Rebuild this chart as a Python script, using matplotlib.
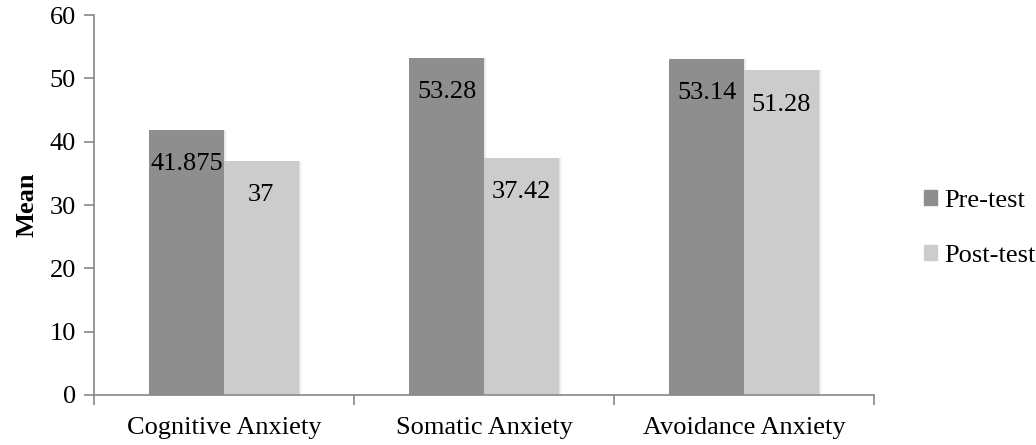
import matplotlib
matplotlib.use("Agg")
import matplotlib.pyplot as plt
import numpy as np

categories = ["Cognitive Anxiety", "Somatic Anxiety", "Avoidance Anxiety"]
series_names = ["Pre-test", "Post-test"]
pre_test = [41.875, 53.28, 53.14]
post_test = [37, 37.42, 51.28]
pre_labels = ["41.875", "53.28", "53.14"]
post_labels = ["37", "37.42", "51.28"]
y_ticks = [0, 10, 20, 30, 40, 50, 60]

plt.rcParams["font.family"] = ["Liberation Serif", "DejaVu Serif"]
FS = 19

fig = plt.figure(figsize=(10.36, 4.45), dpi=100)
ax = fig.add_axes([0.0907, 0.1124, 0.7529, 0.8536])

x = np.arange(len(categories))
width = 0.287
colors = ["#8e8e8e", "#cccccc"]

for i, (vals, labs) in enumerate([(pre_test, pre_labels), (post_test, post_labels)]):
    pos = x + (i - 0.5) * width
    # soft drop shadow behind each bar
    for k, a in enumerate([0.05, 0.035, 0.02]):
        ax.bar(pos + 0.004 * (k + 1), vals, width, color="#000000", alpha=a, zorder=1)
    ax.bar(pos, vals, width, color=colors[i], label=series_names[i], zorder=2)
    for p, v, t in zip(pos, vals, labs):
        ax.text(p, v - 5.4, t, ha="center", va="center", fontsize=FS, color="black", zorder=3)

ax.set_xlim(-0.5, len(categories) - 0.5)
ax.set_ylim(0, 60)
ax.set_yticks(y_ticks)
ax.set_yticklabels([str(t) for t in y_ticks], fontsize=FS)
ax.set_xticks(x)
ax.set_xticklabels(categories, fontsize=FS)
ax.tick_params(axis="x", length=0, pad=16)
ax.set_xticks(np.arange(len(categories) + 1) - 0.5, minor=True)
ax.tick_params(axis="x", which="minor", length=7, color="#888888", width=1.2)
ax.tick_params(axis="y", length=7, color="#888888", width=1.2, pad=6)

for side in ["top", "right"]:
    ax.spines[side].set_visible(False)
for side in ["left", "bottom"]:
    ax.spines[side].set_color("#888888")
    ax.spines[side].set_linewidth(1.2)

ax.set_ylabel("Mean", fontsize=FS, fontweight="bold", labelpad=8)

handles = [plt.Rectangle((0, 0), 1, 1, color=c) for c in colors]
fig.legend(handles, series_names, loc="center left", bbox_to_anchor=(0.869, 0.486),
           frameon=False, fontsize=FS, handlelength=0.5, handleheight=0.5,
           handletextpad=0.25, labelspacing=1.25)

fig.savefig("out.png", dpi=100)
